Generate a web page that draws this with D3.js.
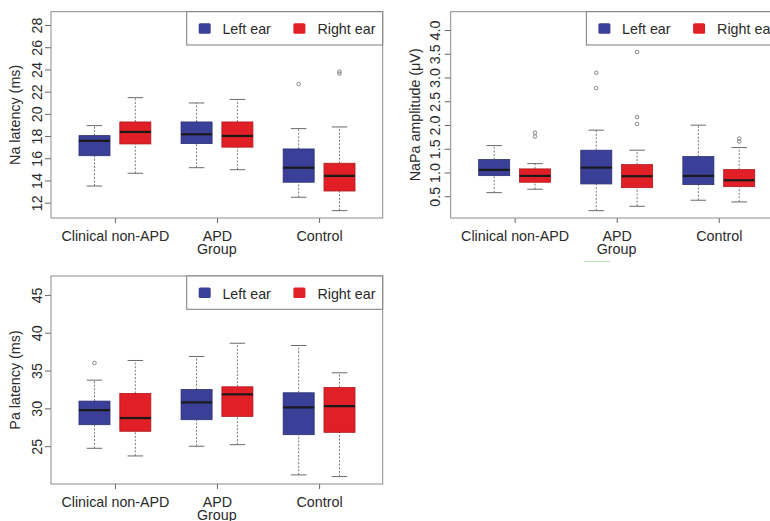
<!DOCTYPE html>
<html>
<head>
<meta charset="utf-8">
<script src="https://cdn.jsdelivr.net/npm/d3@7"></script>
<style>
  html, body { margin: 0; padding: 0; background: #fff; }
  svg { display: block; font-family: "Liberation Sans", Arial, sans-serif; }
</style>
</head>
<body>
<svg id="chart" width="770" height="521"></svg>
<script>
// ---------- data ----------
const groups = ["Clinical non-APD", "APD", "Control"];
const ears = ["Left ear", "Right ear"];
const xTitle = "Group";

// five-number summaries: [lower whisker, Q1, median, Q3, upper whisker]
const naLeft  = [[13.5, 16.23, 17.56, 18.04, 18.94], [15.15, 17.32, 18.16, 19.27, 20.98], [12.49, 13.84, 15.15, 16.84, 18.67]];
const naRight = [[14.65, 17.29, 18.37, 19.27, 21.46], [14.97, 17.0, 18.01, 19.27, 21.3], [11.28, 13.05, 14.41, 15.55, 18.82]];
const naLeftOut  = [[], [], [22.67]];
const naRightOut = [[], [], [23.62, 23.8]];
const naTicks = [12, 14, 16, 18, 20, 22, 24, 26, 28];

const napaLeft  = [[0.576, 0.934, 1.055, 1.272, 1.567], [0.196, 0.759, 1.103, 1.47, 1.892], [0.416, 0.745, 0.928, 1.335, 1.997]];
const napaRight = [[0.648, 0.795, 0.928, 1.076, 1.187], [0.289, 0.681, 0.922, 1.166, 1.47], [0.38, 0.702, 0.837, 1.061, 1.525]];
const napaLeftOut  = [[], [2.777, 3.1], []];
const napaRightOut = [[1.757, 1.84], [2.024, 2.166, 3.536], [1.651, 1.714]];
const napaTicks = [0.5, 1.0, 1.5, 2.0, 2.5, 3.0, 3.5, 4.0];

const paLeft  = [[24.72, 27.84, 29.78, 30.96, 33.73], [24.99, 28.5, 30.79, 32.5, 36.86], [21.2, 26.52, 30.13, 32.06, 38.31]];
const paRight = [[23.71, 26.97, 28.72, 31.98, 36.33], [25.2, 28.94, 31.85, 32.85, 38.61], [20.98, 26.83, 30.3, 32.77, 34.7]];
const paLeftOut  = [[36.0], [], []];
const paRightOut = [[], [], []];
const paTicks = [25, 30, 35, 40, 45];

// ---------- styling / layout ----------
const colors = ["#3a3f98", "#e01f26"];
const svg = d3.select("#chart");

const panels = [
  { title: "Na latency (ms)", left: naLeft, right: naRight, lo: naLeftOut, ro: naRightOut,
    ticks: naTicks, fmt: d3.format("d"), domain: [10.62, 29.2],
    box: { x0: 51, x1: 382.7, y0: 11.7, y1: 218 }, labOff: 9 },
  { title: "NaPa amplitude (\u03BCV)", left: napaLeft, right: napaRight, lo: napaLeftOut, ro: napaRightOut,
    ticks: napaTicks, fmt: d3.format(".1f"), domain: [0.042, 4.386],
    box: { x0: 450.7, x1: 782.4, y0: 11.7, y1: 218 }, labOff: 10.5 },
  { title: "Pa latency (ms)", left: paLeft, right: paRight, lo: paLeftOut, ro: paRightOut,
    ticks: paTicks, fmt: d3.format("d"), domain: [20.0, 47.5],
    box: { x0: 51, x1: 382.7, y0: 276, y1: 484 }, labOff: 9 }
];

const fontSize = 14.3;
const textCol = "#2a2a2a";

panels.forEach(p => {
  const b = p.box;
  const g = svg.append("g");
  const x = d3.scaleLinear().domain([-0.065, 8.058]).range([b.x0, b.x1]);
  const y = d3.scaleLinear().domain(p.domain).range([b.y1, b.y0]);
  const centers = groups.map((_, i) => 1.5 + i * 2.5);
  const bw = 0.76;

  // y axis
  const ya = g.append("g").attr("transform", `translate(${b.x0},0)`)
    .call(d3.axisLeft(y).tickValues(p.ticks).tickFormat(p.fmt).tickSize(6).tickSizeOuter(0));
  ya.select(".domain").remove();
  ya.selectAll(".tick line").attr("stroke", "#666");
  ya.selectAll(".tick text")
    .attr("x", null).attr("y", null).attr("dy", null)
    .attr("transform", `translate(${-p.labOff},0) rotate(-90)`)
    .attr("text-anchor", "middle")
    .attr("fill", textCol)
    .style("font-size", fontSize + "px")
    .style("font-family", "'Liberation Sans', Arial, sans-serif");

  // x axis
  const xa = g.append("g").attr("transform", `translate(0,${b.y1})`)
    .call(d3.axisBottom(x).tickValues(centers).tickFormat((d, i) => groups[i]).tickSize(5).tickSizeOuter(0));
  xa.select(".domain").remove();
  xa.selectAll(".tick line").attr("stroke", "#666");
  xa.selectAll(".tick text")
    .attr("y", 23).attr("dy", null)
    .attr("fill", textCol)
    .style("font-size", fontSize + "px")
    .style("font-family", "'Liberation Sans', Arial, sans-serif");

  // axis titles
  g.append("text")
    .attr("transform", `translate(${b.x0 - 31},${(b.y0 + b.y1) / 2}) rotate(-90)`)
    .attr("text-anchor", "middle").attr("fill", textCol)
    .style("font-size", fontSize + "px")
    .text(p.title);
  g.append("text")
    .attr("x", (b.x0 + b.x1) / 2).attr("y", b.y1 + 35.5)
    .attr("text-anchor", "middle").attr("fill", textCol)
    .style("font-size", fontSize + "px")
    .text(xTitle);

  // boxes
  const series = [
    { data: p.left, out: p.lo, off: -0.5, col: colors[0] },
    { data: p.right, out: p.ro, off: 0.5, col: colors[1] }
  ];
  series.forEach(s => {
    s.data.forEach((v, i) => {
      const c = centers[i] + s.off;
      const xl = x(c - bw / 2), xr = x(c + bw / 2);
      const cl = x(c - bw / 4), cr = x(c + bw / 4);
      const xc = x(c);
      const bg = g.append("g");
      // whiskers (dashed)
      bg.append("line").attr("x1", xc).attr("x2", xc).attr("y1", y(v[0])).attr("y2", y(v[1]))
        .attr("stroke", "#7a7a7a").attr("stroke-width", 1).attr("stroke-dasharray", "2,1.6");
      bg.append("line").attr("x1", xc).attr("x2", xc).attr("y1", y(v[3])).attr("y2", y(v[4]))
        .attr("stroke", "#7a7a7a").attr("stroke-width", 1).attr("stroke-dasharray", "2,1.6");
      // caps
      [v[0], v[4]].forEach(w => {
        bg.append("line").attr("x1", cl).attr("x2", cr).attr("y1", y(w)).attr("y2", y(w))
          .attr("stroke", "#6a6a6a").attr("stroke-width", 1);
      });
      // box
      bg.append("rect").attr("x", xl).attr("y", y(v[3]))
        .attr("width", xr - xl).attr("height", y(v[1]) - y(v[3]))
        .attr("fill", s.col).attr("stroke", d3.color(s.col).darker(0.7)).attr("stroke-width", 0.8);
      // median
      bg.append("line").attr("x1", xl).attr("x2", xr).attr("y1", y(v[2])).attr("y2", y(v[2]))
        .attr("stroke", "#1a1a1a").attr("stroke-width", 2.2);
      // outliers
      s.out[i].forEach(o => {
        bg.append("circle").attr("cx", xc).attr("cy", y(o)).attr("r", 1.8)
          .attr("fill", "none").attr("stroke", "#7a7a7a").attr("stroke-width", 0.9);
      });
    });
  });

  // frame
  g.append("rect").attr("x", b.x0).attr("y", b.y0)
    .attr("width", b.x1 - b.x0).attr("height", b.y1 - b.y0)
    .attr("fill", "none").attr("stroke", "#8a8a8a").attr("stroke-width", 1);

  // legend
  const lx = b.x1 - 196, ly = b.y0, lh = 33.3;
  const lg = g.append("g");
  lg.append("rect").attr("x", lx).attr("y", ly).attr("width", 196).attr("height", lh)
    .attr("fill", "#fff").attr("stroke", "#7a7a7a").attr("stroke-width", 1);
  const items = [{ t: ears[0], c: colors[0], sx: 12, tx: 35.7 }, { t: ears[1], c: colors[1], sx: 106.7, tx: 130.7 }];
  items.forEach(it => {
    lg.append("rect").attr("x", lx + it.sx).attr("y", ly + 11.5).attr("width", 12).attr("height", 10.5)
      .attr("rx", 1.5).attr("fill", it.c);
    lg.append("text").attr("x", lx + it.tx).attr("y", ly + 22.5)
      .attr("fill", textCol).style("font-size", fontSize + "px").text(it.t);
  });
});

// faint scan artifact under second panel's x title
svg.append("line").attr("x1", 584).attr("x2", 610).attr("y1", 261.5).attr("y2", 261.5)
  .attr("stroke", "#b8e0b0").attr("stroke-width", 1);
</script>
</body>
</html>
